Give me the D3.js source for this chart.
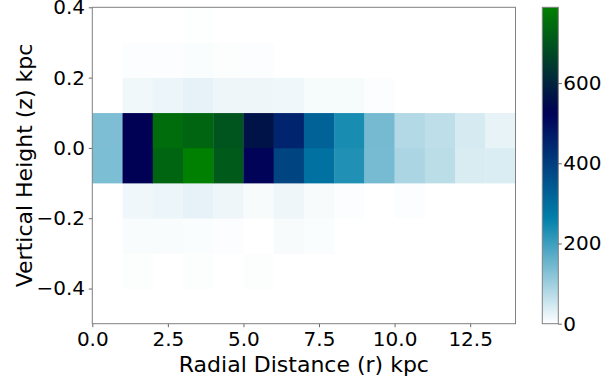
<!DOCTYPE html>
<html>
<head>
<meta charset="utf-8">
<script src="https://cdn.jsdelivr.net/npm/d3@7"></script>
<style>
  body { margin: 0; background: #fff; }
  text { font-family: "DejaVu Sans", sans-serif; fill: #000; }
</style>
</head>
<body>
<div id="chart"></div>
<script>
// bin edges of the 2d histogram
const rEdges = [0, 1, 2, 3, 4, 5, 6, 7, 8, 9, 10, 11, 12, 13, 14];
const zEdges = [-0.4, -0.3, -0.2, -0.1, 0.0, 0.1, 0.2, 0.3, 0.4];

// counts per z row (bottom to top), one value per r bin
const rowM04 = [0, 3, 0, 3, 0, 3, 0, 0, 0, 0, 0, 0, 0, 0];
const rowM03 = [0, 6, 7, 5, 4, 0, 8, 5, 0, 0, 0, 0, 0, 0];
const rowM02 = [0, 16, 20, 26, 18, 8, 18, 8, 4, 0, 4, 0, 0, 0];
const rowM01 = [135, 528, 735, 789, 712, 520, 386, 292, 229, 140, 87, 70, 40, 38];
const rowP00 = [134, 526, 750, 735, 700, 565, 450, 323, 237, 142, 79, 67, 43, 24];
const rowP01 = [0, 14, 20, 26, 18, 18, 16, 9, 9, 4, 0, 0, 0, 0];
const rowP02 = [0, 4, 4, 5, 3, 4, 0, 0, 0, 0, 0, 0, 0, 0];
const rowP03 = [0, 0, 0, 2, 0, 0, 0, 0, 0, 0, 0, 0, 0, 0];
const counts = [rowM04, rowM03, rowM02, rowM01, rowP00, rowP01, rowP02, rowP03];

const xTicks = [0, 2.5, 5, 7.5, 10, 12.5];
const yTicks = [-0.4, -0.2, 0.0, 0.2, 0.4];
const cTicks = [0, 200, 400, 600];
const vMax = 789;

// matplotlib "ocean" reversed
function oceanR(t) {
  const x = 1 - Math.max(0, Math.min(1, t));
  const cl = v => Math.max(0, Math.min(1, v));
  const r = cl(3 * x - 2), g = cl(Math.abs((3 * x - 1) / 2)), b = cl(x);
  return d3.rgb(r * 255, g * 255, b * 255).toString();
}

const width = 606, height = 381;
const plot = { left: 92.3, right: 515.5, top: 7.3, bottom: 323.7 };
const cbar = { left: 542.3, right: 558.3 };

const svg = d3.select('#chart').append('svg')
  .attr('width', width).attr('height', height);

const x = d3.scaleLinear().domain([0, 14]).range([plot.left, plot.right]);
const y = d3.scaleLinear().domain([-0.5, 0.4]).range([plot.bottom, plot.top]);
const c = d3.scaleLinear().domain([0, vMax]).range([plot.bottom, plot.top]);

const cells = [];
counts.forEach((row, j) => row.forEach((v, i) => cells.push({ i, j, v })));

svg.append('g').selectAll('rect').data(cells).enter().append('rect')
  .attr('x', d => x(rEdges[d.i]))
  .attr('width', d => x(rEdges[d.i + 1]) - x(rEdges[d.i]) + 0.3)
  .attr('y', d => y(zEdges[d.j + 1]))
  .attr('height', d => y(zEdges[d.j]) - y(zEdges[d.j + 1]) + 0.3)
  .attr('fill', d => oceanR(d.v / vMax));

// axes
const minus = d => d3.format('.1f')(d).replace('-', '\u2212');
const xAxis = svg.append('g')
  .attr('transform', `translate(0,${plot.bottom})`)
  .call(d3.axisBottom(x).tickValues(xTicks).tickFormat(minus).tickSizeOuter(0).tickSize(3.5).tickPadding(4.3));
const yAxis = svg.append('g')
  .attr('transform', `translate(${plot.left},0)`)
  .call(d3.axisLeft(y).tickValues(yTicks).tickFormat(minus).tickSizeOuter(0).tickSize(3.5).tickPadding(3.8));
[xAxis, yAxis].forEach(a => {
  a.select('.domain').remove();
  a.selectAll('line').attr('stroke', '#444').attr('stroke-width', 0.8);
  a.selectAll('text').style('font-size', '20px').attr('fill', '#000');
});

// frame
svg.append('rect')
  .attr('x', plot.left).attr('y', plot.top)
  .attr('width', plot.right - plot.left).attr('height', plot.bottom - plot.top)
  .attr('fill', 'none').attr('stroke', '#808080').attr('stroke-width', 1);

svg.append('text')
  .attr('x', (plot.left + plot.right) / 2).attr('y', 372)
  .attr('text-anchor', 'middle').style('font-size', '22px')
  .text('Radial Distance (r) kpc');
svg.append('text')
  .attr('transform', `translate(32,${(plot.top + plot.bottom) / 2}) rotate(-90)`)
  .attr('text-anchor', 'middle').style('font-size', '22px')
  .text('Vertical Height (z) kpc');

// colorbar
const grad = svg.append('defs').append('linearGradient')
  .attr('id', 'cb').attr('x1', 0).attr('y1', 1).attr('x2', 0).attr('y2', 0);
d3.range(0, 1.0001, 0.02).forEach(t => {
  grad.append('stop').attr('offset', t).attr('stop-color', oceanR(t));
});
svg.append('rect')
  .attr('x', cbar.left).attr('y', plot.top)
  .attr('width', cbar.right - cbar.left).attr('height', plot.bottom - plot.top)
  .attr('fill', 'url(#cb)').attr('stroke', '#808080').attr('stroke-width', 1);

const cAxis = svg.append('g')
  .attr('transform', `translate(${cbar.right},0)`)
  .call(d3.axisRight(c).tickValues(cTicks).tickSizeOuter(0).tickSize(3.5).tickPadding(1.5));
cAxis.select('.domain').remove();
cAxis.selectAll('line').attr('stroke', '#444').attr('stroke-width', 0.8);
cAxis.selectAll('text').style('font-size', '20px').attr('fill', '#000');
</script>
</body>
</html>
